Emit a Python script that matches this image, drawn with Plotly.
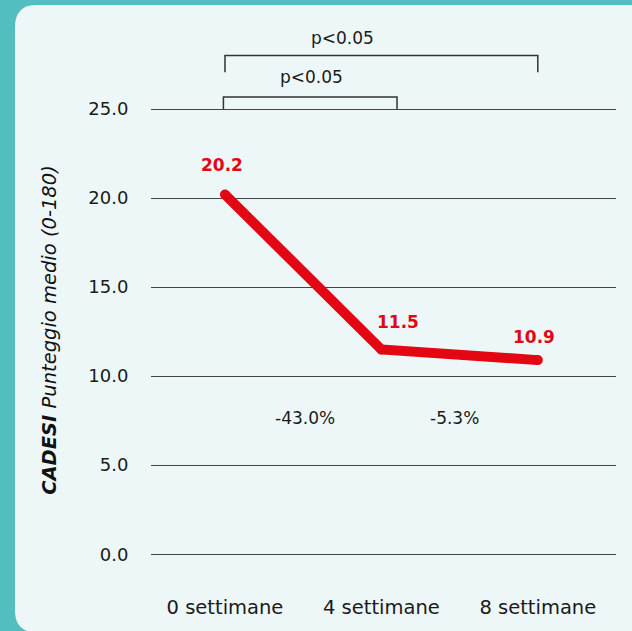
import plotly.graph_objects as go

categories = ["0 settimane", "4 settimane", "8 settimane"]
values = [20.2, 11.5, 10.9]
value_labels = ["20.2", "11.5", "10.9"]
pct_labels = ["-43.0%", "-5.3%"]
y_ticks = [0, 5, 10, 15, 20, 25]
y_ticktext = ["0.0", "5.0", "10.0", "15.0", "20.0", "25.0"]
sig_label = "p<0.05"

RED = "#E30613"
TEAL = "#52BEBF"
PANEL = "#EEF7F8"
FONT = "DejaVu Sans"
TXT = "#1a1a1a"

W, H = 632, 631
ml, mr, mt, mb = 151, 16, 20, 71
pw, ph = W - ml - mr, H - mt - mb

def px_x(p):
    return (p - ml) / pw

def px_y(p):
    return 1 - (p - mt) / ph

x = [0, 1, 2]

fig = go.Figure()
fig.add_trace(go.Scatter(
    x=x, y=values, mode="lines+markers",
    line=dict(color=RED, width=10),
    marker=dict(color=RED, size=10),
    hoverinfo="skip", showlegend=False,
))

# panel with rounded left corners
r = 22
x0, x1 = px_x(15), px_x(700)
y0, y1 = px_y(5), px_y(637)
rx, ry = r / pw, r / ph
path = (f"M {x0+rx},{y0} L {x1},{y0} L {x1},{y1} L {x0+rx},{y1} "
        f"Q {x0},{y1} {x0},{y1+ry} "
        f"L {x0},{y0-ry} Q {x0},{y0} {x0+rx},{y0} Z")
shapes = [dict(type="path", xref="paper", yref="paper", path=path,
               fillcolor=PANEL, line=dict(width=0), layer="below")]

# significance brackets
def bracket(xa, xb, ylo, yhi):
    return dict(type="path", xref="x", yref="y",
                path=f"M {xa},{ylo} L {xa},{yhi} L {xb},{yhi} L {xb},{ylo}",
                line=dict(color="#333333", width=1.5))

shapes.append(bracket(-0.01, 1.1, 25.0, 25.67))
shapes.append(bracket(0.0, 2.0, 27.06, 28.01))

annotations = []
annotations.append(dict(x=0.55, y=26.15, xref="x", yref="y", text=sig_label,
                        showarrow=False, yanchor="bottom",
                        font=dict(family=FONT, size=17, color=TXT)))
annotations.append(dict(x=0.75, y=28.3, xref="x", yref="y", text=sig_label,
                        showarrow=False, yanchor="bottom",
                        font=dict(family=FONT, size=17, color=TXT)))

shifts = [(-3, 30), (17, 27), (-4, 23)]
for xi, v, t, (dx, dy) in zip(x, values, value_labels, shifts):
    annotations.append(dict(x=xi, y=v, xref="x", yref="y", text=f"<b>{t}</b>",
                            showarrow=False, xshift=dx, yshift=dy,
                            font=dict(family=FONT, size=17, color=RED)))

for xp, t in zip([0.51, 1.47], pct_labels):
    annotations.append(dict(x=xp, y=7.65, xref="x", yref="y", text=t,
                            showarrow=False,
                            font=dict(family=FONT, size=17, color=TXT)))

annotations.append(dict(x=px_x(50), y=12.6, xref="paper", yref="y",
                        xanchor="center", yanchor="middle",
                        text="<b><i>CADESI</i></b> <i>Punteggio medio (0-180)</i>",
                        textangle=-90, showarrow=False,
                        font=dict(family=FONT, size=19.5, color="#111111")))

fig.update_layout(
    width=W, height=H,
    margin=dict(l=ml, r=mr, t=mt, b=mb),
    paper_bgcolor=TEAL, plot_bgcolor="rgba(0,0,0,0)",
    shapes=shapes, annotations=annotations,
    font=dict(family=FONT, size=18, color=TXT),
)
fig.update_xaxes(range=[-0.473, 2.5], tickvals=x, ticktext=categories,
                 showgrid=False, zeroline=False, showline=False,
                 ticks="outside", ticklen=34, tickcolor="rgba(0,0,0,0)",
                 tickfont=dict(family=FONT, size=19.5, color=TXT))
fig.update_yaxes(range=[-0.1, 30], tickvals=y_ticks, ticktext=y_ticktext,
                 showgrid=True, gridcolor="#444444", gridwidth=1,
                 zeroline=False, showline=False,
                 ticks="outside", ticklen=18, tickcolor="rgba(0,0,0,0)",
                 tickfont=dict(family=FONT, size=18, color=TXT))

fig.write_html(
    "out.html",
    config={"displayModeBar": False},
    post_script="document.body.style.margin='0';document.body.style.background='#52BEBF';",
)
